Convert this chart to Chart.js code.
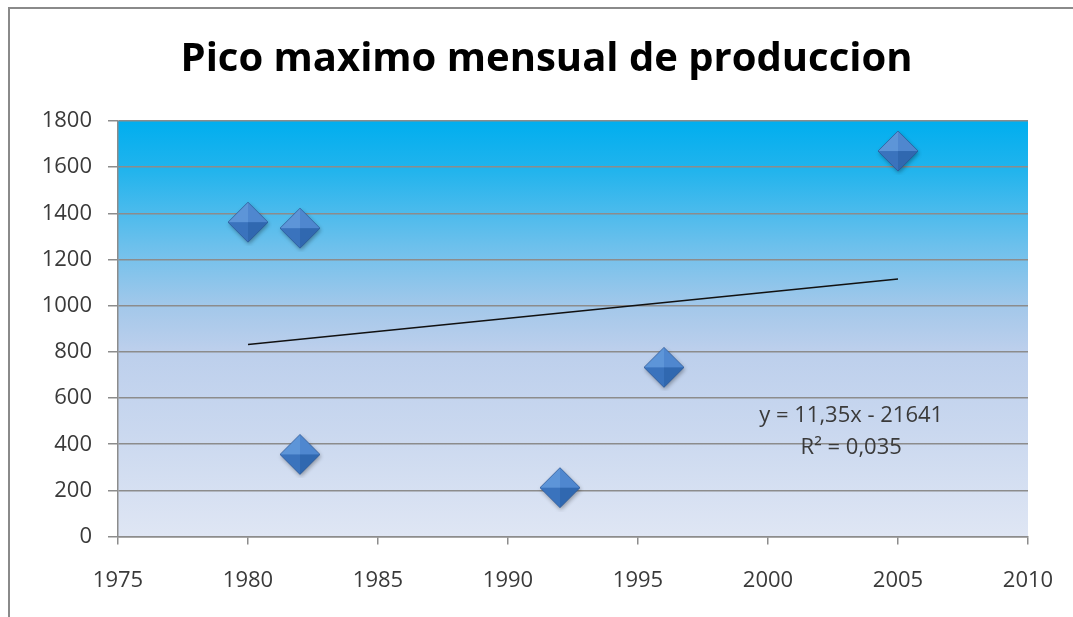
<!DOCTYPE html>
<html>
<head>
<meta charset="utf-8">
<script src="https://cdn.jsdelivr.net/npm/chart.js@4"></script>
<style>
  html, body { margin: 0; padding: 0; background: #fff; overflow: hidden; }
  #frame { position: absolute; left: 8px; top: 7px; width: 1080px; height: 640px;
           border-left: 2px solid #8a8a8a; border-top: 2px solid #8a8a8a; }
  #wrap { position: absolute; left: 0; top: 0; width: 1073px; height: 617px; }
</style>
</head>
<body>
<div id="frame"></div>
<div id="wrap"><canvas id="chart"></canvas></div>
<script>
/* ── Data ───────────────────────── */
const years = [1980, 1982, 1982, 1992, 1996, 2005];
const peaks = [1362, 1336, 356, 212, 733, 1670];
const xTicks = [1975, 1980, 1985, 1990, 1995, 2000, 2005, 2010];
const yTicks = [0, 200, 400, 600, 800, 1000, 1200, 1400, 1600, 1800];
const trendSlope = 11.35;
const trendIntercept = -21641;
const trendLabel = ['y = 11,35x - 21641', 'R² = 0,035'];
const chartTitle = 'Pico maximo mensual de produccion';

const fontFamily = "'Open Sans', 'Noto Sans', sans-serif";
const textColor = '#3a3a3a';
const gridGray = '#8c8c8c';

// trend line endpoints from the printed equation
const xFirst = Math.min(...years), xLast = Math.max(...years);
const trendPoints = [xFirst, xLast].map(x => ({ x, y: trendSlope * x + trendIntercept }));

/* ── Beveled diamond marker ───────────────────────── */
function makeDiamond(r) {
  const s = r * 2 + 8;
  const c = document.createElement('canvas');
  c.width = s; c.height = s;
  const g = c.getContext('2d');
  const cx = s / 2, cy = s / 2;
  const T = [cx, cy - r], R = [cx + r, cy], B = [cx, cy + r], L = [cx - r, cy], C = [cx, cy];
  g.save();
  g.shadowColor = 'rgba(0,0,0,0.35)';
  g.shadowBlur = 4;
  g.shadowOffsetX = 1;
  g.shadowOffsetY = 2;
  g.beginPath();
  g.moveTo(...T); g.lineTo(...R); g.lineTo(...B); g.lineTo(...L); g.closePath();
  g.fillStyle = '#3b74bf';
  g.fill();
  g.restore();
  const facet = (a, b, col) => {
    g.beginPath(); g.moveTo(...a); g.lineTo(...b); g.lineTo(...C); g.closePath();
    g.fillStyle = col; g.fill();
  };
  facet(T, L, '#5d95d8');
  facet(T, R, '#4f87cf');
  facet(L, B, '#3a73bd');
  facet(R, B, '#3068b0');
  g.beginPath();
  g.moveTo(...T); g.lineTo(...R); g.lineTo(...B); g.lineTo(...L); g.closePath();
  g.strokeStyle = 'rgba(40,80,140,0.6)';
  g.lineWidth = 1;
  g.stroke();
  return c;
}

/* ── Plugins ───────────────────────── */
const plotBackground = {
  id: 'plotBackground',
  beforeDraw(chart) {
    const { ctx, chartArea: a } = chart;
    const grad = ctx.createLinearGradient(0, a.top, 0, a.bottom);
    grad.addColorStop(0, '#00aeef');
    grad.addColorStop(0.12, '#22b4ed');
    grad.addColorStop(0.3, '#6cc0ec');
    grad.addColorStop(0.45, '#a4c8ea');
    grad.addColorStop(0.55, '#bccfec');
    grad.addColorStop(0.75, '#cad8ef');
    grad.addColorStop(1, '#dfe6f4');
    ctx.save();
    ctx.fillStyle = grad;
    ctx.fillRect(a.left, a.top, a.right - a.left, a.bottom - a.top);
    ctx.restore();
  }
};

// title centred on the whole frame, not on the plot
const frameTitle = {
  id: 'frameTitle',
  afterDraw(chart) {
    const { ctx } = chart;
    ctx.save();
    ctx.font = 'bold 40px ' + fontFamily;
    ctx.fillStyle = '#000';
    ctx.textAlign = 'center';
    ctx.textBaseline = 'middle';
    ctx.fillText(chartTitle, chart.width / 2 + 10, 60);
    ctx.restore();
  }
};

const trendText = {
  id: 'trendText',
  afterDatasetsDraw(chart) {
    const { ctx, scales: { x, y } } = chart;
    ctx.save();
    ctx.font = '22px ' + fontFamily;
    ctx.fillStyle = textColor;
    ctx.textAlign = 'center';
    ctx.textBaseline = 'middle';
    const px = x.getPixelForValue(2003.2);
    ctx.fillText(trendLabel[0], px, y.getPixelForValue(525));
    ctx.fillText(trendLabel[1], px, y.getPixelForValue(386));
    ctx.restore();
  }
};

/* ── Chart ───────────────────────── */
const diamond = makeDiamond(20);

new Chart(document.getElementById('chart'), {
  type: 'scatter',
  data: {
    datasets: [
      {
        label: 'Pico',
        data: years.map((x, i) => ({ x, y: peaks[i] })),
        pointStyle: diamond,
        pointRadius: 20,
        pointHoverRadius: 20
      },
      {
        label: 'Tendencia',
        type: 'line',
        data: trendPoints,
        borderColor: '#111',
        borderWidth: 1.5,
        pointRadius: 0,
        fill: false
      }
    ]
  },
  options: {
    responsive: true,
    maintainAspectRatio: false,
    animation: false,
    layout: { padding: { left: 0, right: 45, top: 121, bottom: 0 } },
    plugins: {
      legend: { display: false },
      tooltip: { enabled: false },
      title: { display: false }
    },
    scales: {
      x: {
        type: 'linear',
        min: xTicks[0],
        max: xTicks[xTicks.length - 1],
        afterBuildTicks: s => { s.ticks = xTicks.map(v => ({ value: v })); },
        afterFit: s => { s.paddingRight = 5; },
        ticks: {
          color: textColor,
          font: { family: fontFamily, size: 22 },
          padding: 23,
          callback: v => String(v)
        },
        grid: { drawOnChartArea: false, drawTicks: true, tickLength: 8, color: gridGray, lineWidth: 1.5 },
        border: { display: true, color: gridGray, width: 1.5 }
      },
      y: {
        min: yTicks[0],
        max: yTicks[yTicks.length - 1],
        afterBuildTicks: s => { s.ticks = yTicks.map(v => ({ value: v })); },
        afterFit: s => { s.width = 118; },
        ticks: {
          color: textColor,
          font: { family: fontFamily, size: 22 },
          padding: 16,
          callback: v => String(v)
        },
        grid: { color: gridGray, lineWidth: 1.5, tickLength: 10 },
        border: { display: true, color: gridGray, width: 1.5 }
      }
    }
  },
  plugins: [plotBackground, trendText, frameTitle]
});
</script>
</body>
</html>
